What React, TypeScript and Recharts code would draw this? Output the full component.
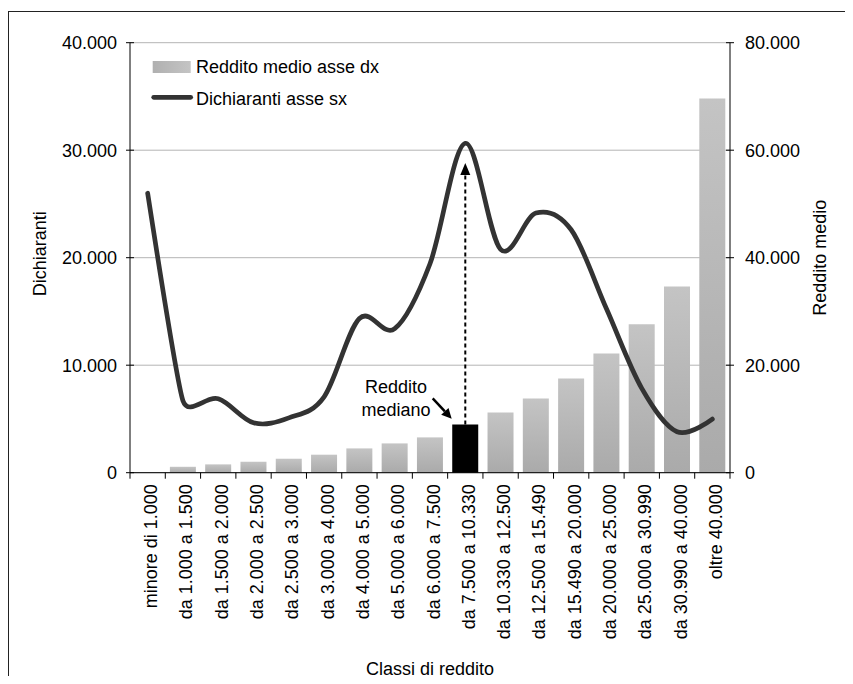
import React from 'react';
import {
  ComposedChart,
  Bar,
  Line,
  XAxis,
  YAxis,
  CartesianGrid,
  Cell,
  Legend,
  ReferenceLine,
  ReferenceDot,
} from 'recharts';

// ---------- data ----------
const categories: string[] = [
  'minore di 1.000',
  'da 1.000 a 1.500',
  'da 1.500 a 2.000',
  'da 2.000 a 2.500',
  'da 2.500 a 3.000',
  'da 3.000 a 4.000',
  'da 4.000 a 5.000',
  'da 5.000 a 6.000',
  'da 6.000 a 7.500',
  'da 7.500 a 10.330',
  'da 10.330 a 12.500',
  'da 12.500 a 15.490',
  'da 15.490 a 20.000',
  'da 20.000 a 25.000',
  'da 25.000 a 30.990',
  'da 30.990 a 40.000',
  'oltre 40.000',
];
const redditoMedio: number[] = [
  0, 1100, 1550, 2040, 2600, 3350, 4520, 5450, 6570, 8990, 11220, 13820, 17540,
  22200, 27600, 34660, 69640,
];
const dichiaranti: number[] = [
  26000, 6700, 6870, 4640, 5100, 7060, 14340, 13400, 19440, 30640, 20780, 24150,
  22600, 15250, 7850, 3810, 4990,
];
const medianIndex = 9;
const medianArrowTop = 57600; // right-axis value where the dashed arrow ends
const leftTicks: number[] = [0, 10000, 20000, 30000, 40000];
const rightTicks: number[] = [0, 20000, 40000, 60000, 80000];
const barName = 'Reddito medio asse dx';
const lineName = 'Dichiaranti asse sx';
const leftTitle = 'Dichiaranti';
const rightTitle = 'Reddito medio';
const xTitle = 'Classi di reddito';
const medianLabel = ['Reddito', 'mediano'];

const data = categories.map((c, i) => ({
  classe: c,
  reddito: redditoMedio[i],
  dichiaranti: dichiaranti[i],
}));

// ---------- helpers ----------
const fmt = (n: number) =>
  String(Math.round(n)).replace(/\B(?=(\d{3})+(?!\d))/g, '.');

const FONT = '"Liberation Sans", Arial, sans-serif';
const FS = 18;

const dist = (a: number[], b: number[]) =>
  Math.sqrt((a[0] - b[0]) * (a[0] - b[0]) + (a[1] - b[1]) * (a[1] - b[1]));

// Spreadsheet-style smoothed line (Bezier, tension 1/6, capped by neighbour segment length)
function smoothCurve(context: any) {
  let pts: [number, number][] = [];
  const factor = (p0: number[], p1: number[], p2: number[]) => {
    const d02 = dist(p0, p2);
    const d01 = dist(p0, p1);
    const d12 = dist(p1, p2);
    if (d02 === 0) return 0;
    const m = Math.min(d01, d12);
    if (d02 / 6 < m / 2) return 1 / 6;
    return m / (2 * d02);
  };
  return {
    areaStart() {},
    areaEnd() {},
    lineStart() {
      pts = [];
    },
    lineEnd() {
      if (!pts.length) return;
      context.moveTo(pts[0][0], pts[0][1]);
      for (let i = 0; i < pts.length - 1; i++) {
        const p0 = pts[i - 1] || pts[i];
        const p1 = pts[i];
        const p2 = pts[i + 1];
        const p3 = pts[i + 2] || p2;
        const f1 = factor(p0, p1, p2);
        const f2 = factor(p1, p2, p3);
        context.bezierCurveTo(
          p1[0] + (p2[0] - p0[0]) * f1,
          p1[1] + (p2[1] - p0[1]) * f1,
          p2[0] - (p3[0] - p1[0]) * f2,
          p2[1] - (p3[1] - p1[1]) * f2,
          p2[0],
          p2[1]
        );
      }
    },
    point(x: number, y: number) {
      pts.push([+x, +y]);
    },
  };
}

const XTick = (props: any) => {
  const { x, y, payload, index, visibleTicksCount } = props;
  const off = payload && payload.offset ? payload.offset : 0;
  return (
    <g>
      <line x1={x - off} y1={y} x2={x - off} y2={y + 6} stroke="#000" strokeWidth={1} />
      {index === visibleTicksCount - 1 && (
        <line x1={x + off} y1={y} x2={x + off} y2={y + 6} stroke="#000" strokeWidth={1} />
      )}
      <text
        transform={`translate(${x + 9.5},${y + 11.5}) rotate(-90)`}
        textAnchor="end"
        fontSize={FS}
        fontFamily={FONT}
        fill="#000"
      >
        {payload.value}
      </text>
    </g>
  );
};

const LeftTick = (props: any) => {
  const { x, y, payload } = props;
  return (
    <g>
      <line x1={x - 4} y1={y} x2={x + 4} y2={y} stroke="#000" strokeWidth={1} />
      <text x={x - 13} y={y} dy="0.36em" textAnchor="end" fontSize={FS} fontFamily={FONT} fill="#000">
        {fmt(payload.value)}
      </text>
    </g>
  );
};

const RightTick = (props: any) => {
  const { x, y, payload } = props;
  return (
    <g>
      <line x1={x - 4} y1={y} x2={x + 4} y2={y} stroke="#000" strokeWidth={1} />
      <text x={x + 15} y={y} dy="0.36em" textAnchor="start" fontSize={FS} fontFamily={FONT} fill="#000">
        {fmt(payload.value)}
      </text>
    </g>
  );
};

const DashedArrow = (props: any) => {
  const { x1, y1, x2, y2 } = props;
  const x = (x1 + x2) / 2;
  const top = Math.min(y1, y2);
  const bottom = Math.max(y1, y2);
  return (
    <g>
      <line x1={x} y1={bottom} x2={x} y2={top + 11} stroke="#000" strokeWidth={2} strokeDasharray="4 3" />
      <polygon points={`${x},${top} ${x - 5},${top + 12} ${x + 5},${top + 12}`} fill="#000" />
    </g>
  );
};

const MedianNote = (props: any) => {
  const { cx, cy } = props;
  if (cx == null || cy == null) return null;
  const sx = cx - 32.6;
  const sy = cy - 26;
  const tx = cx - 13.6;
  const ty = cy - 5.7;
  const dx = tx - sx;
  const dy = ty - sy;
  const len = Math.sqrt(dx * dx + dy * dy);
  const ux = dx / len;
  const uy = dy / len;
  const bx = tx - 10 * ux;
  const by = ty - 10 * uy;
  const px = -uy;
  const py = ux;
  return (
    <g>
      <line x1={sx} y1={sy} x2={bx} y2={by} stroke="#000" strokeWidth={2.5} />
      <polygon
        points={`${tx},${ty} ${bx + 5 * px},${by + 5 * py} ${bx - 5 * px},${by - 5 * py}`}
        fill="#000"
      />
      <text x={cx - 69.3} y={cy - 31.7} textAnchor="middle" fontSize={FS} fontFamily={FONT} fill="#000">
        {medianLabel[0]}
      </text>
      <text x={cx - 69.3} y={cy - 8.3} textAnchor="middle" fontSize={FS} fontFamily={FONT} fill="#000">
        {medianLabel[1]}
      </text>
    </g>
  );
};

const LegendContent = () => (
  <svg width={320} height={64} style={{ display: 'block', overflow: 'visible' }}>
    <rect x={4.7} y={8} width={38} height={12} fill="url(#barGradLegend)" />
    <text x={48} y={20} fontSize={FS} fontFamily={FONT} fill="#000">
      {barName}
    </text>
    <line x1={5.7} y1={44.3} x2={42.7} y2={44.3} stroke="#333" strokeWidth={4.7} strokeLinecap="round" />
    <text x={48} y={52.3} fontSize={FS} fontFamily={FONT} fill="#000">
      {lineName}
    </text>
  </svg>
);

export default function App() {
  return (
    <div
      style={{
        position: 'relative',
        width: 845,
        height: 676,
        marginBottom: -8,
        overflow: 'hidden',
        fontFamily: FONT,
        background: '#fff',
      }}
    >
      <svg width={0} height={0} style={{ position: 'absolute' }}>
        <defs>
          <linearGradient id="barGrad" x1="0" y1="0" x2="0" y2="1">
            <stop offset="0%" stopColor="#c4c4c4" />
            <stop offset="100%" stopColor="#aaaaaa" />
          </linearGradient>
          <linearGradient id="barGradLegend" x1="0" y1="0" x2="1" y2="0">
            <stop offset="0%" stopColor="#b0b0b0" />
            <stop offset="100%" stopColor="#c4c4c4" />
          </linearGradient>
        </defs>
      </svg>
      <div
        style={{
          position: 'absolute',
          left: 0,
          top: 3,
          width: 900,
          height: 900,
          border: '1px solid #222',
          boxSizing: 'border-box',
        }}
      />
      <div style={{ position: 'absolute', left: 0, top: 0 }}>
        <ComposedChart
          width={845}
          height={676}
          data={data}
          margin={{ top: 34.7, right: 0, bottom: 8, left: 0 }}
          barCategoryGap="13%"
        >
          <CartesianGrid
            yAxisId="left"
            vertical={false}
            horizontal={true}
            stroke="#b4b4b4"
            strokeWidth={1}
          />
          <XAxis
            dataKey="classe"
            height={203.3}
            interval={0}
            tickLine={false}
            tickSize={0}
            tickMargin={0}
            axisLine={{ stroke: '#000', strokeWidth: 1 }}
            tick={<XTick />}
            label={{
              content: (p: any) => {
                const vb = p.viewBox || { x: 122, y: 464.7, width: 600 };
                return (
                  <text
                    x={vb.x + vb.width / 2}
                    y={vb.y + 202.3}
                    textAnchor="middle"
                    fontSize={FS}
                    fontFamily={FONT}
                    fill="#000"
                  >
                    {xTitle}
                  </text>
                );
              },
            }}
          />
          <YAxis
            yAxisId="left"
            orientation="left"
            width={122}
            domain={[0, 40000]}
            ticks={leftTicks}
            interval={0}
            tickLine={false}
            tickSize={0}
            tickMargin={0}
            axisLine={{ stroke: '#000', strokeWidth: 1 }}
            tick={<LeftTick />}
            label={{
              content: (p: any) => {
                const vb = p.viewBox || { x: 0, y: 34.7, width: 122, height: 430 };
                const cx = vb.x + 32;
                const cy = vb.y + vb.height / 2 - 4;
                return (
                  <text
                    transform={`translate(${cx},${cy}) rotate(-90)`}
                    textAnchor="middle"
                    dy="0.36em"
                    fontSize={FS}
                    fontFamily={FONT}
                    fill="#000"
                  >
                    {leftTitle}
                  </text>
                );
              },
            }}
          />
          <YAxis
            yAxisId="right"
            orientation="right"
            width={123}
            domain={[0, 80000]}
            ticks={rightTicks}
            interval={0}
            tickLine={false}
            tickSize={0}
            tickMargin={0}
            axisLine={{ stroke: '#000', strokeWidth: 1 }}
            tick={<RightTick />}
            label={{
              content: (p: any) => {
                const vb = p.viewBox || { x: 722, y: 34.7, width: 123, height: 430 };
                const cx = vb.x + 90;
                const cy = vb.y + vb.height / 2;
                return (
                  <text
                    transform={`translate(${cx},${cy}) rotate(-90)`}
                    textAnchor="middle"
                    dy="0.36em"
                    fontSize={FS}
                    fontFamily={FONT}
                    fill="#000"
                  >
                    {rightTitle}
                  </text>
                );
              },
            }}
          />
          <Legend
            layout="vertical"
            align="center"
            verticalAlign="middle"
            wrapperStyle={{ left: 140, top: 45, width: 320, height: 64 }}
            content={<LegendContent />}
          />
          <Bar
            yAxisId="right"
            dataKey="reddito"
            name={barName}
            isAnimationActive={false}
            fill="url(#barGrad)"
          >
            {data.map((_, i) => (
              <Cell key={i} fill={i === medianIndex ? '#000' : 'url(#barGrad)'} />
            ))}
          </Bar>
          <Line
            yAxisId="left"
            dataKey="dichiaranti"
            name={lineName}
            type={smoothCurve as any}
            stroke="#333"
            strokeWidth={4.7}
            strokeLinecap="round"
            strokeLinejoin="round"
            dot={false}
            activeDot={false}
            isAnimationActive={false}
          />
          <ReferenceLine
            yAxisId="right"
            segment={[
              { x: categories[medianIndex], y: redditoMedio[medianIndex] },
              { x: categories[medianIndex], y: medianArrowTop },
            ]}
            shape={<DashedArrow />}
          />
          <ReferenceDot
            yAxisId="right"
            x={categories[medianIndex]}
            y={redditoMedio[medianIndex]}
            r={0}
            shape={<MedianNote />}
          />
        </ComposedChart>
      </div>
    </div>
  );
}
